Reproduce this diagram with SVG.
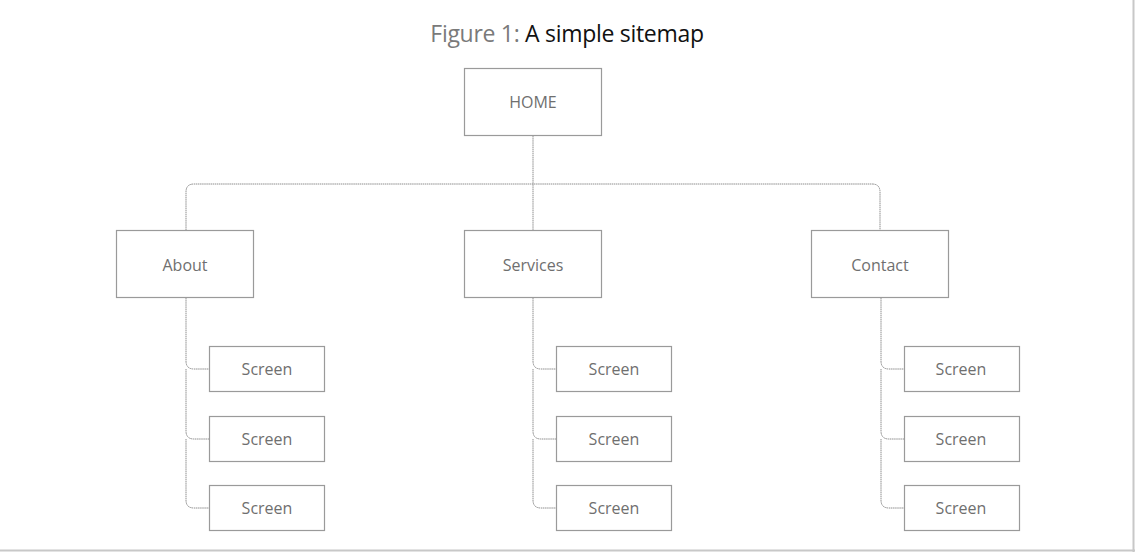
<svg xmlns="http://www.w3.org/2000/svg" width="1135" height="552" viewBox="0 0 1135 552">
<style>
.box{fill:#fff;stroke:#9a9a9a;stroke-width:1.2}
.lbl{font-family:"Open Sans","Liberation Sans",sans-serif;font-size:16px;fill:#6f6f6f;text-anchor:middle;dominant-baseline:central}
.con{fill:none;stroke:#8e8e8e;stroke-width:1;stroke-dasharray:1.5 0.6}
.title{font-family:"Open Sans","Liberation Sans",sans-serif;font-size:23px;text-anchor:middle}
</style>
<rect x="0" y="0" width="1135" height="552" fill="#fff"/>
<line x1="0" y1="550.5" x2="1135" y2="550.5" stroke="#c8c8c8" stroke-width="2"/>
<line x1="1133.5" y1="0" x2="1133.5" y2="552" stroke="#c8c8c8" stroke-width="2"/>
<text class="title" x="567" y="42" letter-spacing="-0.3"><tspan fill="#7a7a7a">Figure 1: </tspan><tspan fill="#111">A simple sitemap</tspan></text>
<g id="connectors">
<path class="con" d="M533 136 V230"/>
<path class="con" d="M186 230 V192 Q186 184 194 184 H872 Q880 184 880 192 V230"/>
<path class="con" d="M186 298 V361 Q186 369 194 369 H209 M186 369 V431 Q186 439 194 439 H209 M186 439 V500 Q186 508 194 508 H209"/>
<path class="con" d="M533 298 V361 Q533 369 541 369 H556 M533 369 V431 Q533 439 541 439 H556 M533 439 V500 Q533 508 541 508 H556"/>
<path class="con" d="M881 298 V361 Q881 369 889 369 H904 M881 369 V431 Q881 439 889 439 H904 M881 439 V500 Q881 508 889 508 H904"/>
</g>
<g id="home"><rect class="box" x="464.5" y="68.5" width="137" height="67"/><text class="lbl" x="533" y="102">HOME</text></g>
<g id="about"><rect class="box" x="116.5" y="230.5" width="137" height="67"/><text class="lbl" x="185" y="265">About</text></g>
<g id="services"><rect class="box" x="464.5" y="230.5" width="137" height="67"/><text class="lbl" x="533" y="265">Services</text></g>
<g id="contact"><rect class="box" x="811.5" y="230.5" width="137" height="67"/><text class="lbl" x="880" y="265">Contact</text></g>
<g id="about-s1"><rect class="box" x="209.5" y="346.5" width="115" height="45"/><text class="lbl" x="267" y="369">Screen</text></g>
<g id="about-s2"><rect class="box" x="209.5" y="416.5" width="115" height="45"/><text class="lbl" x="267" y="439">Screen</text></g>
<g id="about-s3"><rect class="box" x="209.5" y="485.5" width="115" height="45"/><text class="lbl" x="267" y="508">Screen</text></g>
<g id="services-s1"><rect class="box" x="556.5" y="346.5" width="115" height="45"/><text class="lbl" x="614" y="369">Screen</text></g>
<g id="services-s2"><rect class="box" x="556.5" y="416.5" width="115" height="45"/><text class="lbl" x="614" y="439">Screen</text></g>
<g id="services-s3"><rect class="box" x="556.5" y="485.5" width="115" height="45"/><text class="lbl" x="614" y="508">Screen</text></g>
<g id="contact-s1"><rect class="box" x="904.5" y="346.5" width="115" height="45"/><text class="lbl" x="961" y="369">Screen</text></g>
<g id="contact-s2"><rect class="box" x="904.5" y="416.5" width="115" height="45"/><text class="lbl" x="961" y="439">Screen</text></g>
<g id="contact-s3"><rect class="box" x="904.5" y="485.5" width="115" height="45"/><text class="lbl" x="961" y="508">Screen</text></g>
</svg>
